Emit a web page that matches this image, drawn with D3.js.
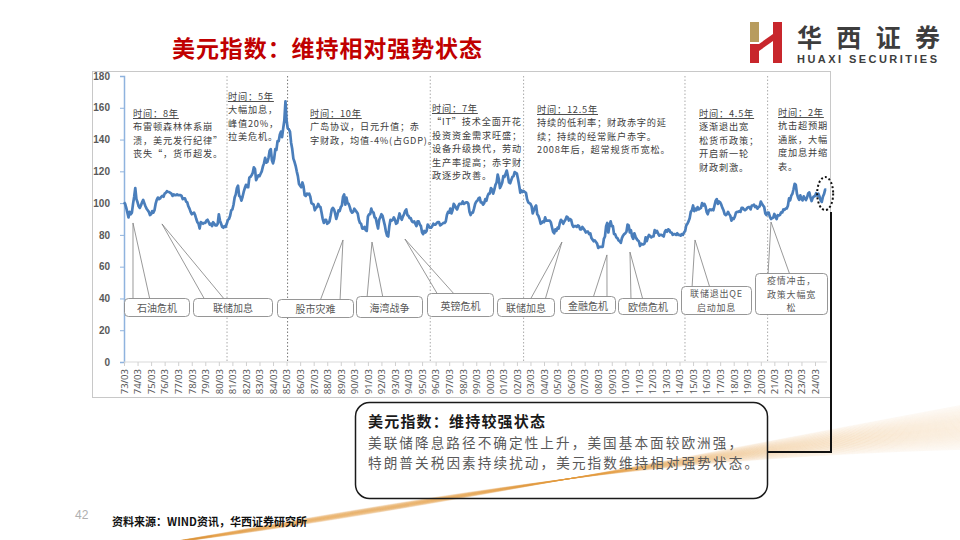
<!DOCTYPE html>
<html><head><meta charset="utf-8">
<script src="https://cdn.jsdelivr.net/npm/d3@7/dist/d3.min.js"></script>
<style>
html,body{margin:0;padding:0;background:#fff;}
svg{display:block;font-family:"Noto Sans CJK SC","Noto Sans",sans-serif;}
</style></head><body>
<svg id="c" width="960" height="540"></svg>
<script>
// ---------------- DATA ----------------
// US Dollar Index, monthly, starting 1973-03
const startDate = 1973 + 2 / 12;
const dxy1970s = [
 100.5,99.5,97.0,94.0,91.0,94.5,93.0,94.0,99.5,104.0,
 109.5,102.5,100.5,98.0,97.0,98.5,100.5,102.0,100.0,98.0,96.5,95.5,
 94.5,92.5,93.0,95.0,94.0,95.5,99.5,102.0,103.5,102.5,103.0,104.0,
 104.5,104.0,106.0,106.5,107.5,107.0,107.0,106.5,106.0,104.5,105.5,105.0,
 105.0,105.5,105.0,105.0,105.0,104.5,102.5,103.0,103.0,101.0,100.5,98.0,
 96.5,94.5,93.0,93.5,94.0,92.5,90.0,88.0,87.0,84.0,88.0,87.5,
 87.0,87.5,87.5,89.0,89.5,88.0,86.5,87.0,85.5,88.0,87.0,86.0
];
const dxy1980s = [
 86.0,87.0,93.0,89.0,87.0,85.0,84.5,85.5,85.0,87.0,89.5,90.0,
 92.0,95.5,96.0,99.0,103.5,105.5,109.5,111.0,104.5,104.0,101.5,104.0,
 107.0,109.5,111.5,110.0,110.0,116.0,116.5,117.5,119.0,122.5,121.5,114.5,
 116.0,117.5,117.0,118.5,120.0,123.0,125.0,128.5,125.5,126.0,128.5,133.0,
 134.0,127.0,125.0,128.0,134.0,133.5,139.0,139.0,143.0,145.0,141.5,147.0,
 152.0,164.0,152.0,147.0,146.5,145.0,138.0,134.0,128.0,126.0,123.5,120.0,
 117.0,112.0,111.0,110.0,113.0,110.5,105.0,104.5,106.0,105.5,106.0,104.0,
 100.0,99.5,99.0,95.5,97.0,97.5,99.5,98.0,97.5,94.0,90.0,87.5,
 89.5,89.5,87.0,87.5,88.5,92.0,96.0,97.0,96.0,93.5,90.0,92.5,
 95.5,95.0,97.5,98.5,104.0,105.5,99.0,103.5,100.0,99.5,97.5,95.0
];
const dxy1990s = [
 94.0,94.5,96.5,95.5,94.5,93.5,89.5,87.5,87.0,84.0,84.0,85.0,
 83.0,82.5,91.5,93.0,93.0,96.5,94.5,94.0,91.0,90.5,87.0,84.0,
 89.5,91.0,93.0,92.0,89.0,86.0,82.0,79.5,79.0,85.5,89.5,89.0,
 89.5,91.0,89.5,87.0,87.5,90.5,93.5,91.0,89.5,91.5,93.0,95.0,
 96.0,92.5,92.0,90.5,90.5,88.5,88.0,88.5,87.0,85.5,88.5,88.5,
 86.5,85.5,81.5,80.5,82.5,81.5,82.5,86.5,85.5,84.5,84.5,85.5,
 87.0,86.5,86.5,87.5,88.0,88.0,86.0,86.5,87.0,87.5,87.5,88.5,
 92.5,94.5,94.0,96.5,93.5,95.5,99.5,98.5,97.0,96.0,98.0,99.5,
 99.5,99.5,101.0,99.5,100.0,100.5,100.5,99.5,94.5,92.5,94.0,94.0,
 96.5,99.5,101.0,101.5,103.0,103.5,100.5,100.5,99.0,100.0,102.5,101.5
];
const dxy2000s = [
 104.5,106.0,106.0,109.5,108.5,106.0,108.5,111.5,113.0,118.0,115.0,109.5,
 111.0,113.0,117.0,116.5,118.5,120.5,117.0,113.0,112.5,114.5,116.5,117.0,
 119.5,119.0,118.5,115.0,111.0,106.5,108.0,107.0,107.5,107.0,106.5,102.5,
 100.5,100.0,99.5,98.0,93.5,95.5,97.5,98.5,93.0,92.0,90.0,87.0,
 87.5,88.5,88.0,91.0,89.0,89.0,89.0,89.0,88.0,85.0,82.0,81.0,
 83.5,82.5,84.5,84.0,87.5,89.5,88.5,87.0,88.5,89.5,91.5,91.0,
 89.0,90.0,89.5,86.5,85.0,85.5,85.5,85.0,86.0,85.5,83.5,83.5,
 85.0,84.0,83.0,81.5,82.0,82.0,80.5,81.0,78.0,77.0,76.0,76.5,
 75.5,74.5,71.8,72.5,72.5,72.5,72.5,77.5,79.0,85.5,87.5,81.5,
 86.0,88.5,85.5,85.5,80.5,80.5,78.5,78.0,76.5,76.0,75.0,78.0
];
const dxy2010s = [
 79.5,80.5,81.0,82.0,86.5,86.0,81.5,83.0,79.0,77.5,81.0,79.0,
 77.5,76.5,76.0,73.0,74.5,74.0,74.0,74.5,78.5,76.0,78.5,80.0,
 79.0,78.5,79.0,79.0,83.0,81.5,82.5,81.0,79.5,80.0,80.0,79.5,
 79.0,82.0,83.0,82.0,83.5,83.0,81.5,81.5,80.0,80.5,80.5,80.0,
 81.0,80.0,80.0,79.5,80.5,80.0,81.5,82.5,86.0,87.0,88.5,90.5,
 94.5,95.5,98.5,95.0,96.5,95.5,97.5,96.0,96.5,97.0,100.0,98.5,
 99.5,98.0,94.5,93.0,95.5,96.0,95.5,96.0,95.5,98.5,101.5,102.5,
 99.5,101.0,100.5,99.0,97.0,95.5,93.0,92.5,93.0,94.5,93.0,92.0,
 89.0,90.5,90.0,91.5,94.0,94.5,94.5,95.0,94.5,97.0,97.0,96.0,
 95.5,96.0,97.0,97.5,97.5,96.0,98.5,98.5,99.0,97.5,98.0,96.5
];
const dxy2020s = [
 97.5,98.0,101.0,99.5,98.5,97.5,93.5,92.5,94.0,94.0,91.5,90.0,
 90.5,90.9,93.2,91.3,90.0,92.4,92.2,92.6,94.2,94.1,96.0,95.7,
 96.5,96.7,98.3,103.0,101.8,104.7,105.9,108.7,112.1,111.5,105.9,103.5,
 102.1,104.9,102.5,101.7,104.3,102.9,101.9,103.6,106.2,106.7,103.5,101.3,
 103.3,104.2,104.5,106.2,104.7,105.9,104.1,101.7,100.8,104.0,105.7,108.5,
 108.4
];
const yTicks = [0,20,40,60,80,100,120,140,160,180];
const xLabels = ["73/03","74/03","75/03","76/03","77/03","78/03","79/03","80/03","81/03","82/03",
 "83/03","84/03","85/03","86/03","87/03","88/03","89/03","90/03","91/03","92/03","93/03","94/03",
 "95/03","96/03","97/03","98/03","99/03","00/03","01/03","02/03","03/03","04/03","05/03","06/03",
 "07/03","08/03","09/03","10/03","11/03","12/03","13/03","14/03","15/03","16/03","17/03","18/03",
 "19/03","20/03","21/03","22/03","23/03","24/03"];
// period boundaries (decimal year)
const periodBreaks = [1980.77, 1985.24, 1995.77, 2002.66, 2014.57, 2020.67];
const periodNotes = [
 ["时间：8年","布雷顿森林体系崩","溃，美元发行纪律”","丧失“，货币超发。"],
 ["时间：5年","大幅加息，","峰值20%，","拉美危机。"],
 ["时间：10年","广岛协议，日元升值；赤","字财政，均值-4%(占GDP)。"],
 ["时间：7年","“IT”技术全面开花，","投资资金需求旺盛；","设备升级换代，劳动","生产率提高；赤字财","政逐步改善。"],
 ["时间：12.5年","持续的低利率；财政赤字的延","续；持续的经常账户赤字。","2008年后，超常规货币宽松。"],
 ["时间：4.5年","逐渐退出宽","松货币政策；","开启新一轮","财政刺激。"],
 ["时间：2年","抗击超预期","通胀，大幅","度加息并缩","表。"]
];
const eventNames = [["石油危机"],["联储加息"],["股市灾难"],["海湾战争"],["英镑危机"],["联储加息"],["金融危机"],["欧债危机"],["联储退出QE","启动加息"],["疫情冲击，","政策大幅宽","松"]];
const eventDates = [1973.83, 1975.97, 1989.33, 1991.47, 1993.9, 2005.49, 2008.81, 2010.51, 2015.31, 2020.92];
const eventValues = [87.5, 86.9, 76.8, 75.5, 77.4, 75.5, 67.4, 69.2, 76.8, 88.1];

// ---------------- LAYOUT ----------------
const series = [].concat(dxy1970s, dxy1980s, dxy1990s, dxy2000s, dxy2010s, dxy2020s)
  .map((v, i) => ({ t: startDate + i / 12, v }));
const svg = d3.select("#c");

const x = d3.scaleLinear().domain([startDate, startDate + 51]).range([124, 815]);
const y = d3.scaleLinear().domain([0, 180]).range([362, 76]);

// background decoration swooshes
const deco = svg.append("g").attr("fill", "none").attr("stroke", "#e39b3f");
d3.range(40).forEach(i => {
  deco.append("path")
    .attr("d", `M-20,${560 + i * 0.3} C 250,${545 - i * 0.2} 520,${487 - i * 0.7} 980,${402 + i * 1.2}`)
    .attr("stroke-width", 0.6)
    .attr("opacity", 0.1 + 0.22 * Math.sin(Math.PI * i / 39));
});

// title
svg.append("text").attr("x", 172).attr("y", 47).attr("dominant-baseline", "central")
  .attr("font-size", 23).attr("font-weight", "bold").attr("fill", "#c00000")
  .attr("textLength", 310).attr("lengthAdjust", "spacing")
  .text("美元指数：维持相对强势状态");

// logo
const logo = svg.append("g");
logo.append("rect").attr("x", 750).attr("y", 22).attr("width", 9).attr("height", 20).attr("fill", "#b89c5e");
logo.append("rect").attr("x", 750).attr("y", 44).attr("width", 9).attr("height", 19).attr("fill", "#c8262c");
logo.append("rect").attr("x", 773).attr("y", 22).attr("width", 9).attr("height", 41).attr("fill", "#c8262c");
logo.append("path").attr("d", "M759,44 L773,34 L773,41 L759,51 Z").attr("fill", "#c8262c");
svg.append("text").attr("x", 797).attr("y", 36).attr("dominant-baseline", "central")
  .attr("font-size", 25).attr("font-weight", "bold").attr("fill", "#3d3d3d")
  .attr("textLength", 143).attr("lengthAdjust", "spacing").text("华西证券");
svg.append("text").attr("x", 797).attr("y", 59).attr("dominant-baseline", "central")
  .attr("font-size", 11).attr("font-family", "Liberation Sans, Arial, sans-serif").attr("font-weight", "bold").attr("fill", "#3d3d3d")
  .attr("textLength", 140).attr("lengthAdjust", "spacing").text("HUAXI SECURITIES");

// chart frame
svg.append("rect").attr("x", 92.5).attr("y", 71.5).attr("width", 738).attr("height", 326)
  .attr("fill", "none").attr("stroke", "#c8c8c8").attr("stroke-width", 1);

// period dotted lines
svg.append("g").selectAll("line").data(periodBreaks).join("line")
  .attr("x1", d => x(d)).attr("x2", d => x(d)).attr("y1", 76).attr("y2", 362)
  .attr("stroke", (d, i) => i === 1 ? "#777" : "#aaa").attr("stroke-width", 1)
  .attr("stroke-dasharray", "1.5,2");

// y axis
const yAxis = svg.append("g").attr("transform", "translate(124,0)")
  .call(d3.axisLeft(y).tickValues(yTicks).tickSize(4).tickPadding(10));
yAxis.select(".domain").attr("stroke", "#8fb3de").attr("stroke-width", 1.5);
yAxis.selectAll(".tick line").attr("stroke", "#8fb3de");
yAxis.selectAll("text").attr("font-size", 10).attr("font-weight", "bold")
  .attr("fill", "#595959").attr("font-family", "Liberation Sans, Arial, sans-serif");

// x axis
const xAxis = svg.append("g").attr("transform", "translate(0,362)")
  .call(d3.axisBottom(x).tickValues(xLabels.map((d, i) => startDate + i))
    .tickFormat((d, i) => xLabels[i]).tickSize(4).tickSizeOuter(0));
xAxis.select(".domain").attr("stroke", "#d9d9d9").attr("d", "M124,0H827");
xAxis.selectAll(".tick line").attr("stroke", "#d0d0d0");
xAxis.selectAll("text").attr("font-size", 9.5).attr("fill", "#595959")
  .attr("font-family", "Noto Sans, sans-serif")
  .attr("transform", "rotate(-90)").attr("text-anchor", "end")
  .attr("x", -7).attr("y", 0).attr("dy", "0.35em");

// callouts
const boxes = [
 {x:124,y:298,w:65,h:18,f:[133,150]},
 {x:193,y:298,w:79,h:18,f:[205,225]},
 {x:277,y:299,w:76,h:18,f:[320,340]},
 {x:356,y:296,w:66,h:21,f:[367,383]},
 {x:427,y:293,w:66,h:23,f:[438,455]},
 {x:497,y:298,w:57,h:18,f:[530,545]},
 {x:560,y:296,w:55,h:17,f:[593,607]},
 {x:618,y:298,w:59,h:16,f:[631,643]},
 {x:681,y:286,w:70,h:28,f:[692,710]},
 {x:755,y:273,w:72,h:41,f:[768,790]}
];
const cg = svg.append("g");
eventNames.forEach((names, i) => {
  const b = boxes[i];
  const ax = x(eventDates[i]), ay = y(eventValues[i]);
  cg.append("path").attr("d", `M${b.f[0]},${b.y + 2} L${ax},${ay} L${b.f[1]},${b.y + 2}`)
    .attr("fill", "none").attr("stroke", "#7f7f7f").attr("stroke-width", 0.8);
});

// line
svg.append("path").datum(series)
  .attr("d", d3.line().x(d => x(d.t)).y(d => y(d.v)))
  .attr("fill", "none").attr("stroke", "#4a7ebb").attr("stroke-width", 2.7)
  .attr("stroke-linejoin", "round");

// boxes on top
eventNames.forEach((names, i) => {
  const b = boxes[i];
  cg.append("rect").attr("x", b.x + 0.5).attr("y", b.y + 0.5).attr("width", b.w).attr("height", b.h)
    .attr("rx", 4).attr("fill", "#fff").attr("stroke", "#8a8a8a").attr("stroke-width", 0.9);
  const lh = 13.2;
  names.forEach((s, j) => {
    cg.append("text").attr("x", b.x + b.w / 2 + 0.5)
      .attr("y", b.y + b.h / 2 + 0.5 + (j - (names.length - 1) / 2) * lh)
      .attr("dominant-baseline", "central")
      .attr("text-anchor", "middle").attr("font-size", names.length > 1 ? 9 : 10)
      .attr("letter-spacing", names.length > 1 ? 0.8 : 0)
      .attr("fill", "#595959").text(s);
  });
});

// period notes
const notePos = [
 {x:133,y:113},{x:228,y:96},{x:310,y:113},{x:432,y:108},
 {x:537,y:109},{x:699,y:113},{x:778,y:112}
];
const noteStep = 13.4;
svg.append("clipPath").attr("id", "clipIT").append("rect").attr("x", 420).attr("y", 90).attr("width", 103).attr("height", 100);
periodNotes.forEach((lines, i) => {
  const p = notePos[i];
  const g = svg.append("g");
  if (i === 3) g.attr("clip-path", "url(#clipIT)");
  lines.forEach((s, j) => {
    g.append("text").attr("x", p.x).attr("y", p.y + j * noteStep)
      .attr("dominant-baseline", "central")
      .attr("font-size", 9.2).attr("letter-spacing", 0.8).attr("fill", "#404040")
      .attr("text-decoration", j === 0 ? "underline" : null)
      .text(s);
  });
});

// highlight ellipse + connector
svg.append("ellipse").attr("cx", x(startDate + 51.75)).attr("cy", y(106)).attr("rx", 8).attr("ry", 16.5)
  .attr("fill", "none").attr("stroke", "#111").attr("stroke-width", 2).attr("stroke-dasharray", "2,2.2");
svg.append("path").attr("d", "M831,212 V452 H767").attr("fill", "none").attr("stroke", "#111").attr("stroke-width", 2);

// bottom text box
svg.append("rect").attr("x", 355.5).attr("y", 402.5).attr("width", 412).attr("height", 96).attr("rx", 14)
  .attr("fill", "none").attr("stroke", "#1a1a1a").attr("stroke-width", 1.5);
svg.append("text").attr("x", 368).attr("y", 420).attr("dominant-baseline", "central")
  .attr("font-size", 15).attr("font-weight", "bold").attr("fill", "#1a1a1a")
  .attr("textLength", 177).attr("lengthAdjust", "spacing").text("美元指数：维持较强状态");
svg.append("text").attr("x", 368).attr("y", 442).attr("dominant-baseline", "central")
  .attr("font-size", 13.6).attr("fill", "#595959")
  .attr("textLength", 374).attr("lengthAdjust", "spacing").text("美联储降息路径不确定性上升，美国基本面较欧洲强，");
svg.append("text").attr("x", 368).attr("y", 462).attr("dominant-baseline", "central")
  .attr("font-size", 13.6).attr("fill", "#595959")
  .attr("textLength", 390).attr("lengthAdjust", "spacing").text("特朗普关税因素持续扰动，美元指数维持相对强势状态。");

// footer
svg.append("text").attr("x", 75).attr("y", 515).attr("dominant-baseline", "central")
  .attr("font-size", 12).attr("fill", "#b0b0b0").attr("font-family", "Liberation Sans, Arial, sans-serif").text("42");
svg.append("text").attr("x", 112).attr("y", 521).attr("dominant-baseline", "central")
  .attr("font-size", 11).attr("font-weight", "bold").attr("fill", "#111")
  .attr("textLength", 195).attr("lengthAdjust", "spacing").text("资料来源：WIND资讯，华西证券研究所");
</script>
</body></html>
